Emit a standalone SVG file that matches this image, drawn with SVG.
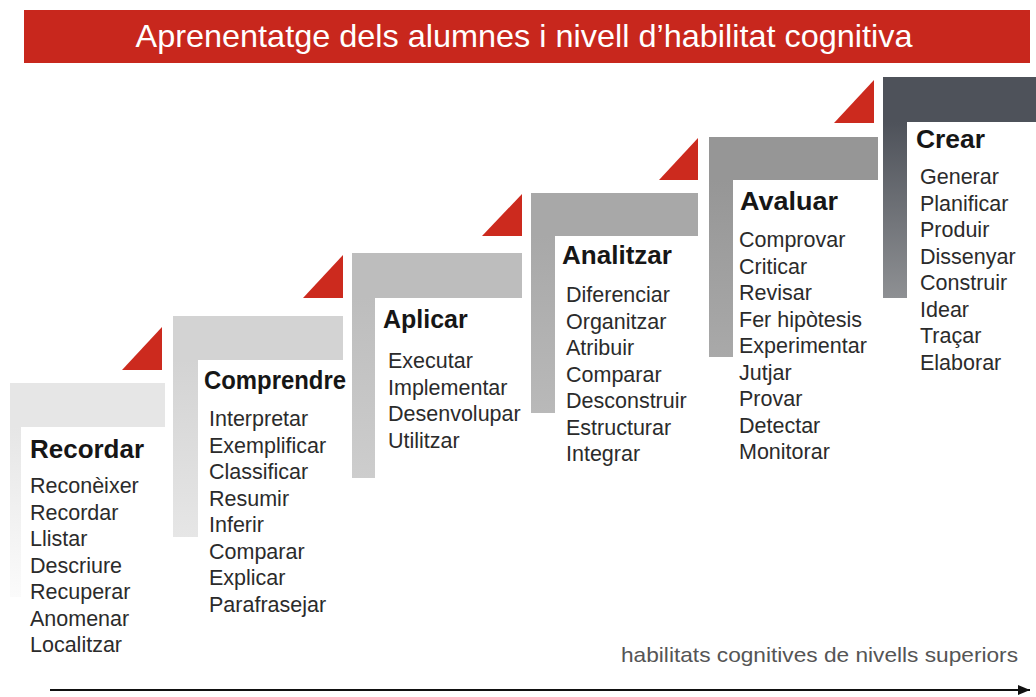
<svg xmlns="http://www.w3.org/2000/svg" width="1036" height="697" viewBox="0 0 1036 697">
<style>
  text { font-family: "Liberation Sans", Arial, sans-serif; }
  .title { font-size: 25px; font-weight: bold; fill: #161616; }
  .item { font-size: 21.5px; fill: #2b2b2b; }
  .tri { fill: #cc2a1e; }
  .header-text { font-size: 32px; fill: #ffffff; }
  .note { font-size: 21px; fill: #555555; }
</style>
<defs>
  <linearGradient id="g1" x1="0" y1="0" x2="0" y2="1"><stop offset="0" stop-color="#e6e6e6"/><stop offset="1" stop-color="#fbfbfb"/></linearGradient>
  <linearGradient id="g2" x1="0" y1="0" x2="0" y2="1"><stop offset="0" stop-color="#d3d3d3"/><stop offset="1" stop-color="#e6e6e6"/></linearGradient>
  <linearGradient id="g3" x1="0" y1="0" x2="0" y2="1"><stop offset="0" stop-color="#bdbdbd"/><stop offset="1" stop-color="#cdcdcd"/></linearGradient>
  <linearGradient id="g4" x1="0" y1="0" x2="0" y2="1"><stop offset="0" stop-color="#a8a8a8"/><stop offset="1" stop-color="#b9b9b9"/></linearGradient>
  <linearGradient id="g5" x1="0" y1="0" x2="0" y2="1"><stop offset="0" stop-color="#969696"/><stop offset="1" stop-color="#a9a9a9"/></linearGradient>
  <linearGradient id="g6" x1="0" y1="0" x2="0" y2="1"><stop offset="0" stop-color="#4e525a"/><stop offset="1" stop-color="#8e9093"/></linearGradient>
  <marker id="arrow" viewBox="0 0 12 10" refX="12" refY="5" markerWidth="12" markerHeight="10" orient="auto" markerUnits="userSpaceOnUse" overflow="visible">
    <path d="M0,0 L12,5 L0,10 Z" fill="#111111"/>
  </marker>
</defs>

<g id="header">
  <rect x="24" y="10" width="1006" height="53" fill="#c8271d"/>
  <text class="header-text" x="524" y="47" text-anchor="middle" textLength="777" lengthAdjust="spacingAndGlyphs">Aprenentatge dels alumnes i nivell d’habilitat cognitiva</text>
</g>

<g id="recordar">
  <rect x="10" y="383" width="155" height="44" fill="#e6e6e6"/>
  <rect x="10" y="427" width="11" height="170" fill="url(#g1)"/>
  <polygon class="tri" points="122,370 162,370 162,327"/>
  <text class="title" x="30" y="458" textLength="114" lengthAdjust="spacingAndGlyphs">Recordar</text>
  <text class="item" x="30" y="493">
    <tspan x="30">Reconèixer</tspan><tspan x="30" dy="26.5">Recordar</tspan><tspan x="30" dy="26.5">Llistar</tspan><tspan x="30" dy="26.5">Descriure</tspan><tspan x="30" dy="26.5">Recuperar</tspan><tspan x="30" dy="26.5">Anomenar</tspan><tspan x="30" dy="26.5">Localitzar</tspan>
  </text>
</g>

<g id="comprendre">
  <rect x="173" y="316" width="170" height="44" fill="#d3d3d3"/>
  <rect x="173" y="360" width="25" height="177" fill="url(#g2)"/>
  <polygon class="tri" points="303,298 343,298 343,255"/>
  <text class="title" x="204" y="389" textLength="142" lengthAdjust="spacingAndGlyphs">Comprendre</text>
  <text class="item" x="209" y="426">
    <tspan x="209">Interpretar</tspan><tspan x="209" dy="26.5">Exemplificar</tspan><tspan x="209" dy="26.5">Classificar</tspan><tspan x="209" dy="26.5">Resumir</tspan><tspan x="209" dy="26.5">Inferir</tspan><tspan x="209" dy="26.5">Comparar</tspan><tspan x="209" dy="26.5">Explicar</tspan><tspan x="209" dy="26.5">Parafrasejar</tspan>
  </text>
</g>

<g id="aplicar">
  <rect x="352" y="253" width="170" height="45" fill="#bdbdbd"/>
  <rect x="352" y="298" width="23" height="180" fill="url(#g3)"/>
  <polygon class="tri" points="482,236 522,236 522,194"/>
  <text class="title" x="383" y="328">Aplicar</text>
  <text class="item" x="388" y="368">
    <tspan x="388">Executar</tspan><tspan x="388" dy="26.5">Implementar</tspan><tspan x="388" dy="26.5">Desenvolupar</tspan><tspan x="388" dy="26.5">Utilitzar</tspan>
  </text>
</g>

<g id="analitzar">
  <rect x="531" y="193" width="167" height="43" fill="#a8a8a8"/>
  <rect x="531" y="236" width="24" height="177" fill="url(#g4)"/>
  <polygon class="tri" points="659,180 698,180 698,138"/>
  <text class="title" x="562" y="264" textLength="110" lengthAdjust="spacingAndGlyphs">Analitzar</text>
  <text class="item" x="566" y="302">
    <tspan x="566">Diferenciar</tspan><tspan x="566" dy="26.5">Organitzar</tspan><tspan x="566" dy="26.5">Atribuir</tspan><tspan x="566" dy="26.5">Comparar</tspan><tspan x="566" dy="26.5">Desconstruir</tspan><tspan x="566" dy="26.5">Estructurar</tspan><tspan x="566" dy="26.5">Integrar</tspan>
  </text>
</g>

<g id="avaluar">
  <rect x="709" y="137" width="169" height="43" fill="#969696"/>
  <rect x="709" y="180" width="24" height="177" fill="url(#g5)"/>
  <polygon class="tri" points="834,123 874,123 874,80"/>
  <text class="title" x="740" y="210" textLength="98" lengthAdjust="spacingAndGlyphs">Avaluar</text>
  <text class="item" x="739" y="247">
    <tspan x="739">Comprovar</tspan><tspan x="739" dy="26.5">Criticar</tspan><tspan x="739" dy="26.5">Revisar</tspan><tspan x="739" dy="26.5">Fer hipòtesis</tspan><tspan x="739" dy="26.5">Experimentar</tspan><tspan x="739" dy="26.5">Jutjar</tspan><tspan x="739" dy="26.5">Provar</tspan><tspan x="739" dy="26.5">Detectar</tspan><tspan x="739" dy="26.5">Monitorar</tspan>
  </text>
</g>

<g id="crear">
  <rect x="883" y="77" width="153" height="45" fill="#4e525a"/>
  <rect x="883" y="122" width="24" height="176" fill="url(#g6)"/>
  <text class="title" x="916" y="148" textLength="69" lengthAdjust="spacingAndGlyphs">Crear</text>
  <text class="item" x="920" y="184">
    <tspan x="920">Generar</tspan><tspan x="920" dy="26.5">Planificar</tspan><tspan x="920" dy="26.5">Produir</tspan><tspan x="920" dy="26.5">Dissenyar</tspan><tspan x="920" dy="26.5">Construir</tspan><tspan x="920" dy="26.5">Idear</tspan><tspan x="920" dy="26.5">Traçar</tspan><tspan x="920" dy="26.5">Elaborar</tspan>
  </text>
</g>

<g id="connectors">
  <line x1="50" y1="690" x2="1030" y2="690" stroke="#111111" stroke-width="2" marker-end="url(#arrow)"/>
</g>

<g id="axis-label">
  <text class="note" x="1018" y="662" text-anchor="end" textLength="397" lengthAdjust="spacingAndGlyphs">habilitats cognitives de nivells superiors</text>
</g>
</svg>
